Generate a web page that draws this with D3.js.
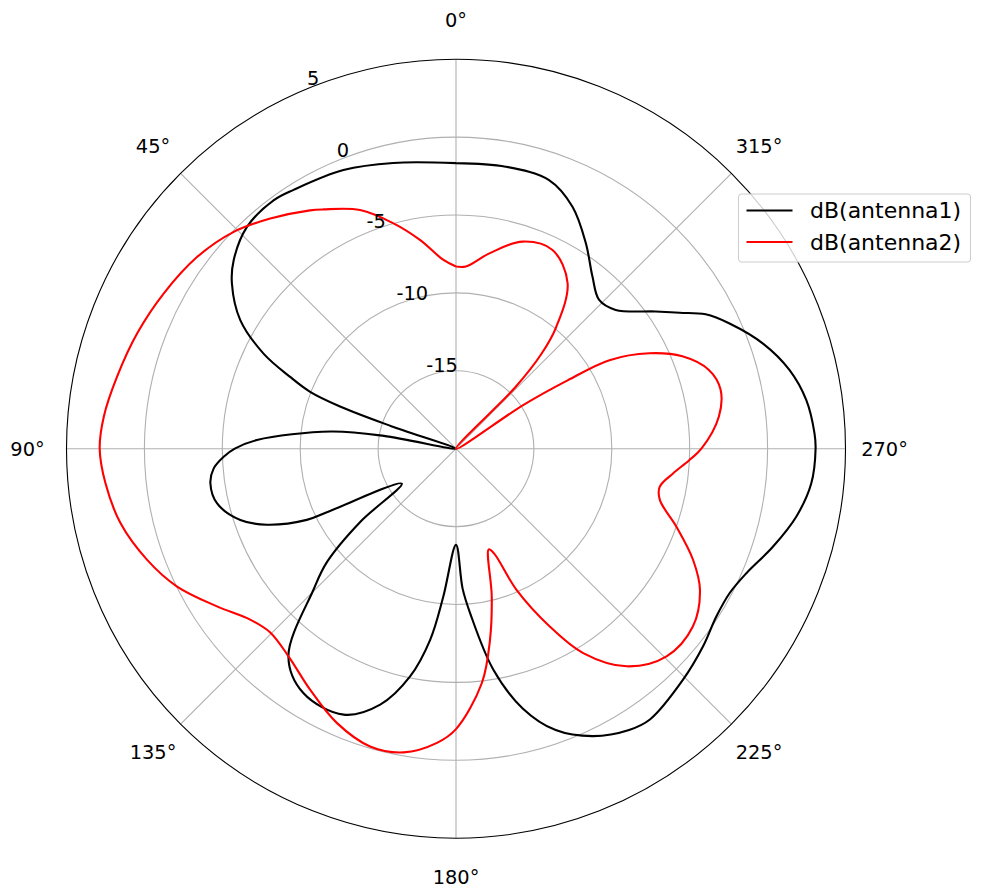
<!DOCTYPE html>
<html>
<head>
<meta charset="utf-8">
<script src="https://cdn.jsdelivr.net/npm/d3@7"></script>
<style>
  html, body { margin: 0; padding: 0; background: #ffffff; }
  svg { display: block; }
  text { font-family: "DejaVu Sans", sans-serif; }
</style>
</head>
<body>
<svg id="chart" width="982" height="894"></svg>
<script>
// ---- data (angles in degrees, counter-clockwise from north; values in dB) ----
const antenna1Angles = [0, 12.4, 22, 32, 36.3, 43.3, 49.7, 53.6, 59.2, 63.7, 66.6, 68.7, 70.0, 70.8, 76, 79.9, 82.2, 87.5, 90, 92, 94.7, 98, 102.9, 108.3, 111.9, 115.5, 116.2, 122.8, 127.4, 131.3, 134.7, 141.1, 148, 157.1, 163.5, 168.6, 172.3, 175.1, 180, 182.7, 184.9, 189.6, 194.4, 199.5, 205.5, 211.6, 215.6, 224.5, 231.3, 237.2, 242.2, 246.8, 252.8, 258.7, 264.4, 270, 272.5, 277.9, 283.3, 288.9, 294.6, 298.3, 301.3, 304.5, 311, 316.1, 321.6, 327.7, 334.3, 340.9, 350, 360];
const antenna1Values = [-1.67, -1.22, -0.71, -0.39, -0.22, -0.44, -1.29, -2.13, -3.88, -6.22, -8.4, -9.95, -12.08, -15.6, -20, -15.3, -11.9, -7.21, -5.8, -5.08, -4.39, -4.08, -4.27, -5.42, -6.92, -9.39, -10.76, -15.86, -12.26, -8.97, -7.13, -2.87, -1.51, -1.47, -2.87, -5.09, -7.62, -10.48, -13.83, -11.01, -9.41, -5.61, -2.79, -0.84, 0.44, 1.2, 1.38, 0.79, 0.31, -0.12, -0.14, 0.28, 1.29, 2.27, 2.91, 3.08, 3.03, 2.7, 1.99, 0.83, -0.69, -1.8, -3.2, -4.45, -6.42, -6.75, -5.9, -4.4, -2.76, -1.75, -1.62, -1.67];

const antenna2Angles = [0, 3.8, 9.8, 15.5, 21.9, 29, 31.5, 38.9, 45.7, 53.5, 62, 70.1, 78, 84.8, 90, 95.6, 102.5, 109.8, 116.3, 123.4, 129.7, 134.6, 141.1, 148.8, 156.5, 163.9, 170.2, 176.3, 180, 186.3, 190.1, 193.6, 198, 200, 203.2, 207.8, 211.9, 218.1, 225.4, 233.1, 239.9, 244.9, 250.5, 255.9, 259.4, 263.5, 267.1, 270, 277, 282.6, 287.3, 292.2, 296.3, 300, 301.5, 303, 311, 316, 318, 320.5, 326, 334.1, 342.2, 350.3, 356.9, 360];
const antenna2Values = [-8.31, -7.86, -6.4, -4.99, -3.49, -2.44, -2.06, -1.02, -0.07, 0.68, 1.24, 1.76, 2.24, 2.70, 2.87, 2.61, 2.06, 1.07, -0.03, -1.62, -2.83, -3.23, -2.88, -1.92, -0.81, -0.11, -0.22, -1.08, -2.0, -4.87, -7.55, -10.24, -13.2, -12.83, -10.14, -7.1, -4.55, -2.25, -1.02, -0.99, -1.9, -3.2, -4.99, -6.51, -6.7, -5.98, -5.03, -4.25, -3.0, -2.6, -3.0, -4.31, -6.17, -8.63, -11.6, -14.8, -20, -14.5, -11.8, -9.9, -7.19, -5.82, -6.04, -7.28, -8.29, -8.31];

const seriesNames = ["dB(antenna1)", "dB(antenna2)"];
const seriesColors = ["#000000", "#ff0000"];
const radialTicks = [-15, -10, -5, 0, 5];
const angleTicks = [0, 45, 90, 135, 180, 225, 270, 315];
const angleTickLabels = ["0°", "45°", "90°", "135°", "180°", "225°", "270°", "315°"];
const rMin = -20, rMax = 5;

// ---- layout ----
const cx = 456, cy = 448.7, R = 389.5;
const fontSize = 19.4;
const legendFontSize = 22;
const svg = d3.select("#chart");
svg.append("rect").attr("width", 982).attr("height", 894).attr("fill", "#ffffff");

const r = d3.scaleLinear().domain([rMin, rMax]).range([0, R]);
// counter-clockwise from north -> d3 radial angle (clockwise) is negated
const ang = d3.scaleLinear().domain([0, 360]).range([0, -2 * Math.PI]);
const px = (deg, rad) => -rad * Math.sin(deg * Math.PI / 180);
const py = (deg, rad) => -rad * Math.cos(deg * Math.PI / 180);

const g = svg.append("g").attr("transform", `translate(${cx},${cy})`);

// grid circles
g.selectAll("circle.grid")
  .data(radialTicks.filter(t => t < rMax))
  .join("circle")
  .attr("class", "grid")
  .attr("r", d => r(d))
  .attr("fill", "none")
  .attr("stroke", "#b0b0b0")
  .attr("stroke-width", 1.1);

// spokes
g.selectAll("line.spoke")
  .data(angleTicks)
  .join("line")
  .attr("class", "spoke")
  .attr("x1", 0).attr("y1", 0)
  .attr("x2", d => px(d, R))
  .attr("y2", d => py(d, R))
  .attr("stroke", "#b0b0b0")
  .attr("stroke-width", 1.1);

// data lines
const series = [
  antenna1Angles.map((a, i) => [a, antenna1Values[i]]),
  antenna2Angles.map((a, i) => [a, antenna2Values[i]])
];
const line = d3.lineRadial()
  .angle(d => ang(d[0]))
  .radius(d => r(Math.max(rMin, d[1])))
  .curve(d3.curveCatmullRom.alpha(0.5));

series.forEach((s, i) => {
  g.append("path")
    .attr("d", line(s))
    .attr("fill", "none")
    .attr("stroke", seriesColors[i])
    .attr("stroke-width", 2.1)
    .attr("stroke-linejoin", "round");
});

// outer spine
g.append("circle")
  .attr("r", R)
  .attr("fill", "none")
  .attr("stroke", "#000000")
  .attr("stroke-width", 1.1);

// radial tick labels at 22.5°
const rlabelAngle = 22.5;
g.selectAll("text.rlabel")
  .data(radialTicks)
  .join("text")
  .attr("class", "rlabel")
  .attr("x", d => px(rlabelAngle, r(d)))
  .attr("y", d => py(rlabelAngle, r(d)) - 4.3)
  .attr("text-anchor", "start")
  .attr("font-size", fontSize)
  .attr("fill", "#000")
  .text(d => d);

// angular tick labels
const labelR = 428.5;
g.selectAll("text.alabel")
  .data(angleTicks)
  .join("text")
  .attr("class", "alabel")
  .attr("x", d => px(d, labelR))
  .attr("y", d => py(d, labelR))
  .attr("dy", "0.36em")
  .attr("text-anchor", "middle")
  .attr("font-size", fontSize)
  .attr("fill", "#000")
  .text((d, i) => angleTickLabels[i]);

// legend
const lg = svg.append("g").attr("transform", "translate(738.5,194)");
lg.append("rect")
  .attr("width", 232).attr("height", 68)
  .attr("rx", 3).attr("ry", 3)
  .attr("fill", "#ffffff").attr("fill-opacity", 0.8)
  .attr("stroke", "#cccccc").attr("stroke-width", 1);
seriesNames.forEach((name, i) => {
  const y = 16.5 + i * 31.5;
  lg.append("line")
    .attr("x1", 8).attr("x2", 54)
    .attr("y1", y).attr("y2", y)
    .attr("stroke", seriesColors[i]).attr("stroke-width", 2.1);
  lg.append("text")
    .attr("x", 71.5).attr("y", y)
    .attr("dy", "0.36em")
    .attr("font-size", legendFontSize)
    .attr("fill", "#000")
    .text(name);
});
</script>
</body>
</html>
